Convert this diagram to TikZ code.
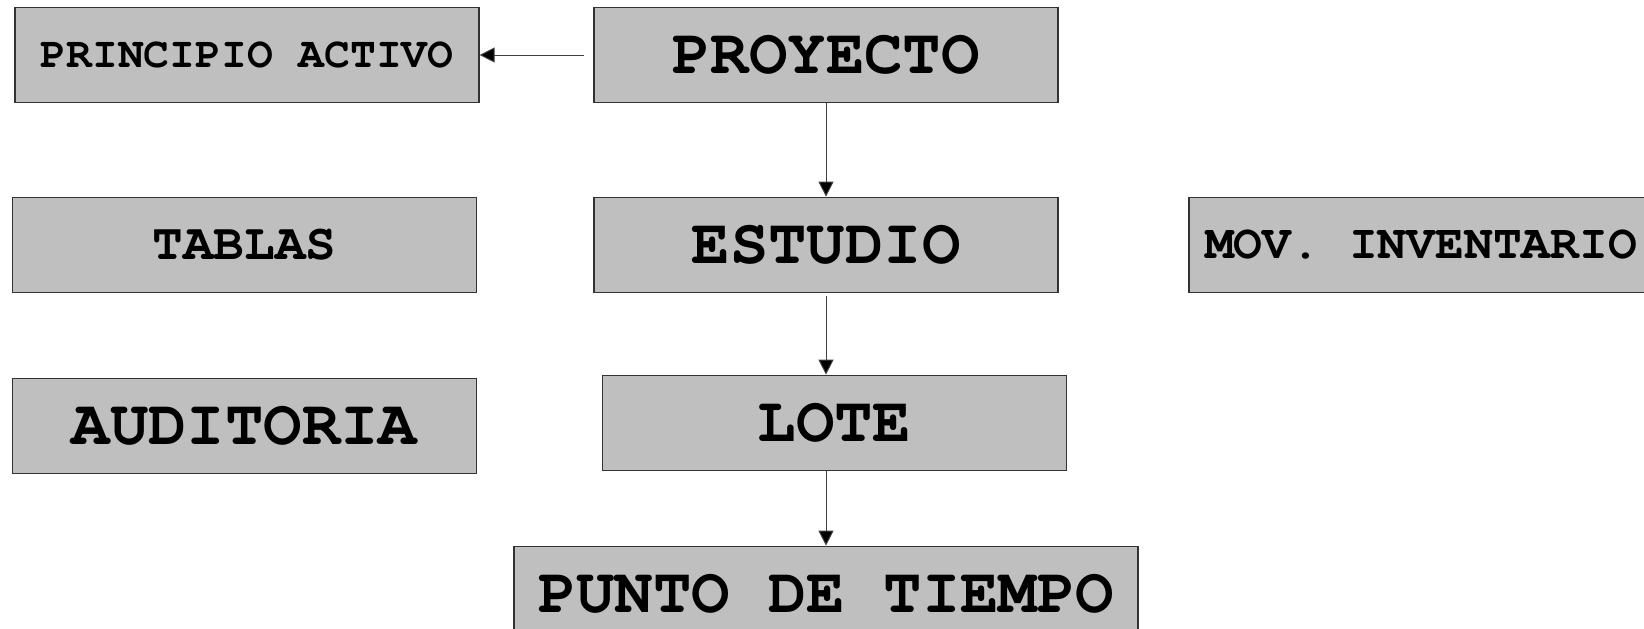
\documentclass[tikz,border=0pt]{standalone}
\usepackage[T1]{fontenc}
\usepackage{courier}
\usetikzlibrary{arrows.meta}

\begin{document}
\begin{tikzpicture}[x=1pt,y=-1pt,
    caja/.style={draw=black!80, line width=1.2pt, fill=black!25,
        minimum width=464pt, minimum height=95.5pt, inner sep=0pt,
        font=\ttfamily\bfseries\fontsize{64}{64}\selectfont},
    flecha/.style={draw=black!75, line width=1pt,
        -{Triangle[length=15pt,width=15pt,fill=black]}}]
    \useasboundingbox (0,0) rectangle (1644,629);
    \clip (0,0) rectangle (1644,629);

    \node[caja, font=\ttfamily\bfseries\fontsize{43}{43}\selectfont] (PA) at (247,55) {PRINCIPIO ACTIVO};
    \node[caja] (PR) at (826,55) {PROYECTO};
    \node[caja, font=\ttfamily\bfseries\fontsize{51}{51}\selectfont] (TA) at (244.5,245) {TABLAS};
    \node[caja] (ES) at (826,245) {ESTUDIO};
    \node[caja, font=\ttfamily\bfseries\fontsize{48}{48}\selectfont] (MI) at (1421,245) {MOV. INVENTARIO};
    \node[caja] (AU) at (244.5,426) {AUDITORIA};
    \node[caja] (LO) at (834.5,423) {LOTE};
    \node[caja, minimum width=624pt] (PT) at (826,594) {PUNTO DE TIEMPO};

    \draw[flecha, shorten <=9pt] (PR) -- (PA);
    \draw[flecha] (PR) -- (ES);
    \draw[flecha, shorten <=3pt] (ES.south) -- (ES.south |- LO.north);
    \draw[flecha] (PT.north |- LO.south) -- (PT);
\end{tikzpicture}
\end{document}
